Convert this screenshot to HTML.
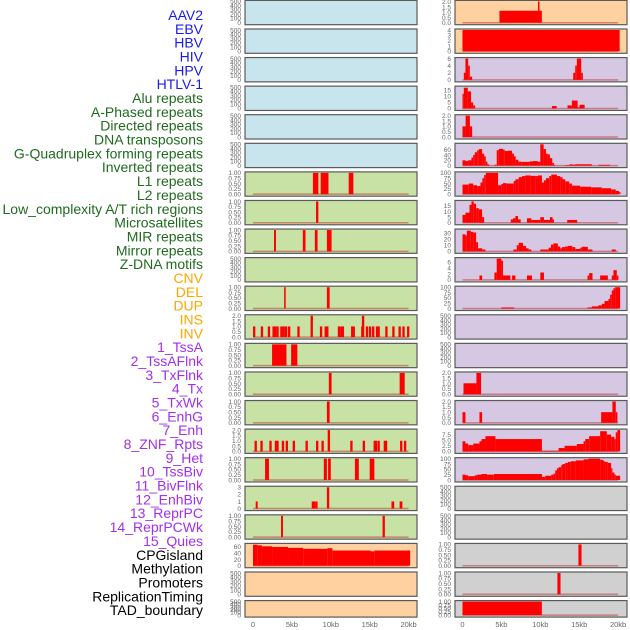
<!DOCTYPE html>
<html><head><meta charset="utf-8">
<style>
html,body{margin:0;padding:0;background:#fff;}
svg{display:block;font-family:"Liberation Sans",sans-serif;}
</style></head>
<body>
<svg id="chart" width="630" height="630" viewBox="0 0 630 630" xmlns="http://www.w3.org/2000/svg"></svg>
<script>
// ---- labels ----
const labelNames = ["AAV2","EBV","HBV","HIV","HPV","HTLV-1","Alu repeats","A-Phased repeats","Directed repeats","DNA transposons","G-Quadruplex forming repeats","Inverted repeats","L1 repeats","L2 repeats","Low_complexity A/T rich regions","Microsatellites","MIR repeats","Mirror repeats","Z-DNA motifs","CNV","DEL","DUP","INS","INV","1_TssA","2_TssAFlnk","3_TxFlnk","4_Tx","5_TxWk","6_EnhG","7_Enh","8_ZNF_Rpts","9_Het","10_TssBiv","11_BivFlnk","12_EnhBiv","13_ReprPC","14_ReprPCWk","15_Quies","CPGisland","Methylation","Promoters","ReplicationTiming","TAD_boundary"];
const labelColors = ["#1a1aee","#1a1aee","#1a1aee","#1a1aee","#1a1aee","#1a1aee",
 "#1f6b1f","#1f6b1f","#1f6b1f","#1f6b1f","#1f6b1f","#1f6b1f","#1f6b1f","#1f6b1f","#1f6b1f","#1f6b1f","#1f6b1f","#1f6b1f","#1f6b1f",
 "#ffa500","#ffa500","#ffa500","#ffa500","#ffa500",
 "#a030ee","#a030ee","#a030ee","#a030ee","#a030ee","#a030ee","#a030ee","#a030ee","#a030ee","#a030ee","#a030ee","#a030ee","#a030ee","#a030ee","#a030ee",
 "#000","#000","#000","#000","#000"];

// ---- x axis ----
const xTickValues = [0,5,10,15,20];
const xTickLabels = ["0","5kb","10kb","15kb","20kb"];

// ---- tick sets ----
const ticks500 = [0,100,200,300,400,500];
const ticks01 = [0,0.25,0.5,0.75,1];
const ticks2 = [0,0.5,1,1.5,2];
const ticks4 = [0,1,2,3,4];
const ticks6 = [0,2,4,6];
const ticks15 = [0,5,10,15];
const ticks60 = [0,20,40,60];
const ticks100 = [0,25,50,75,100];
const ticks30 = [0,10,20,30];
const ticks3 = [0,1,2,3];
const ticks75 = [0,2.5,5,7.5];

// ---- column 1 series (kb start, kb end, value) ----
const c1L1 = [[7.7,8.4,1],[8.7,9.7,1],[12.3,12.9,1]];
const c1R8 = [[8.1,8.4,1]];
const c1R9 = [[2.7,2.95,1],[6.4,6.75,1],[7.95,8.3,1],[9.5,10.1,1]];
const c1R11 = [[4.0,4.2,1],[9.5,9.85,1]];
const insPositions = [0.0,1.0,1.9,2.5,2.7,3.0,3.5,3.8,4.1,4.5,5.7,7.4,8.6,9.2,9.4,10.9,11.2,11.4,12.6,12.8,13.9,14.0,14.5,14.9,15.3,15.8,16.0,17.0,17.9,18.7,19.2,19.8];
const insValues =    [1,1,1,1,1,1,1,1,1,1,1,2,1,1,1,1,1,1,1,1,1,2,1,1,1,1,1,1,1,1,1,1];
const c1R13 = [[2.45,4.3,1],[4.9,5.7,1]];
const c1R14 = [[9.75,10.1,1],[18.85,19.5,1]];
const c1R15 = [[9.5,9.85,1]];
const znfPositions = [0.2,0.95,2.1,2.8,3.0,3.7,4.2,5.1,6.75,8.1,8.8,9.6,12.5,14.1,15.5,15.65,16.0,16.8,16.95,18.9,19.4];
const znfValues =    [1,1,1,1,1,1,1,1,1,1,1,2,1,1,1,1,1,1,1,1,1];
const c1R17 = [[1.55,2.05,1],[9.1,9.5,1],[9.65,10.0,1],[13.1,13.6,1],[15.0,15.6,1]];
const c1R18 = [[0.35,0.6,1],[7.55,8.0,1],[8.0,8.3,1],[9.5,9.8,3],[17.8,18.15,1],[18.85,19.2,1]];
const c1R19 = [[3.6,3.85,1],[16.65,16.95,1]];
const cpgIsland = [[0,0.6,67],[0.6,1.15,65],[1.15,2.45,62],[2.45,4.5,60],[4.5,6.45,57],[6.45,9.55,54],[9.55,10.2,56],[10.2,15.1,48.5],[15.1,15.6,46],[15.6,20.2,48.5]];

// ---- column 2 series ----
const c2R1 = [[4.75,10.2,1.15],[9.7,9.9,2.05]];
const c2R2 = [[0,20.2,4]];
const c2R3 = [[0.17,0.38,2],[0.38,0.73,6],[0.73,0.94,4],[0.94,1.24,0.9],[14.23,14.49,2],[14.49,14.7,4],[14.7,15.26,6],[15.26,15.47,2]];
const c2R4 = [[0,0.17,12],[0.17,0.68,17],[0.68,1.1,14],[1.1,1.37,5],[1.37,1.62,2.5],[11.5,12.1,2],[13.5,14.06,2.5],[14.06,14.8,6.5],[14.8,15.04,1],[15.04,15.7,3]];
const c2R5 = [[0,0.4,1],[0.4,0.95,2],[0.95,1.24,1]];
const c2R6 = [[0,0.38,20],[0.38,0.73,17],[0.73,1.15,20],[1.15,1.37,30],[1.37,1.58,40],[1.58,1.88,50],[1.88,2.09,57],[2.09,2.52,62],[2.52,2.78,45],[2.78,2.99,35],[2.99,3.2,15],[3.2,3.42,5],[4.1,4.4,3],[4.4,4.66,58],[4.66,5.21,63],[5.21,5.43,60],[5.43,5.85,55],[5.85,6.37,56],[6.37,6.62,45],[6.62,6.84,35],[6.84,7.18,22],[7.18,7.56,15],[7.56,8.63,14],[8.63,9.06,16],[9.06,9.7,17],[9.7,10.0,14],[10.0,10.43,80],[10.43,10.73,62],[10.73,10.94,45],[10.94,11.24,42],[11.24,11.54,28],[11.54,11.75,10],[11.75,11.88,3],[13.2,13.76,2],[13.76,14.06,5],[14.06,14.49,4],[14.49,16.62,5],[17.48,18.97,3]];
const c2R7 = [[0,0.81,45],[0.81,1.37,50],[1.37,1.88,42],[1.88,2.31,38],[2.31,2.56,55],[2.56,2.78,75],[2.78,2.99,90],[2.99,4.57,100],[4.57,5.0,42],[5.0,5.21,48],[5.21,5.64,52],[5.64,6.58,50],[6.58,6.8,62],[6.8,7.22,70],[7.22,7.65,80],[7.65,8.08,85],[8.08,8.76,88],[8.76,9.36,86],[9.36,9.7,85],[9.7,10.21,88],[10.21,10.47,55],[10.47,10.73,65],[10.73,11.15,75],[11.15,11.41,85],[11.41,12.14,92],[12.14,12.56,85],[12.56,12.86,80],[12.86,13.2,70],[13.2,13.72,60],[13.72,14.06,50],[14.06,15.13,40],[15.13,16.54,35],[16.54,17.9,32],[17.9,19.1,28],[19.1,19.7,22],[19.7,20.13,15],[20.13,20.3,10]];
const c2R8 = [[0,0.38,7],[0.38,0.9,9],[0.9,1.15,16],[1.15,1.45,19],[1.45,1.75,17],[1.75,2.09,13],[2.09,2.52,12],[2.52,2.78,5],[6.2,6.5,3],[6.5,6.8,4],[6.8,7.14,6],[7.14,7.48,3],[8.29,8.85,4],[8.85,10.0,2.5],[10.0,10.47,5],[10.47,11.24,2.5],[11.24,11.58,5],[11.58,11.75,3],[13.46,14.74,2.5]];
const c2R9 = [[0,0.38,28],[0.38,0.56,26],[0.56,1.07,34],[1.07,1.37,32],[1.37,1.75,31],[1.75,2.0,15],[2.0,2.52,5],[2.52,2.95,3],[6.54,6.97,3],[6.97,7.22,10],[7.22,7.78,14],[7.78,8.16,9],[8.16,8.5,5],[8.5,8.85,3],[10.0,11.07,3],[11.07,11.37,6],[11.37,11.67,11],[11.67,12.26,13],[12.26,12.56,8],[12.56,12.78,5],[12.78,13.2,7],[13.2,13.55,8],[13.55,14.1,9],[14.1,14.49,7],[14.49,15.13,4],[15.13,15.34,6],[15.34,16.11,7.5],[16.11,16.71,3],[19.19,19.7,3]];
const c2R10 = [[2.18,2.52,1.5],[4.1,4.4,2.5],[4.4,5.0,7.3],[5.0,5.21,6.5],[5.21,6.15,1.5],[6.37,6.8,1.5],[8.29,8.93,1.5],[10.0,10.47,2.5],[16.07,16.28,1.5],[16.28,16.71,2.3],[17.69,18.68,1.5],[19.19,19.4,1.5],[19.4,19.83,3.3],[19.83,20.04,1.5]];
const c2R11 = [[5.0,6.62,5],[16.07,16.62,5],[16.62,17.48,10],[17.48,17.9,15],[17.9,18.25,22],[18.25,18.76,35],[18.76,18.97,45],[18.97,19.19,65],[19.19,19.4,85],[19.4,19.62,95],[19.62,20.26,100]];
const c2R14 = [[0.13,1.79,1.03],[1.79,2.39,2]];
const c2R15 = [[0,0.38,1],[2.18,2.52,1],[17.82,19.27,1],[19.27,19.7,2],[19.7,19.91,1]];
const c2R16 = [[0,0.38,4.5],[0.38,0.73,3.5],[0.73,1.37,2.8],[1.37,2.18,3.5],[2.18,2.44,4.5],[2.44,2.95,5.5],[2.95,4.23,6.8],[4.23,10.21,5.5],[10.21,12.35,0.3],[12.35,13.12,1.5],[13.12,14.7,2.5],[14.7,15.56,3.3],[15.56,15.77,4.5],[15.77,16.28,5.5],[16.28,17.69,6.8],[17.69,18.55,9],[18.55,19.1,7.5],[19.1,19.53,6.5],[19.53,19.7,5.5],[19.7,19.91,8.5],[19.91,20.26,9.5]];
const c2R17 = [[0,0.38,25],[0.38,0.73,22],[0.73,1.58,18],[1.58,1.88,22],[1.88,2.44,25],[2.44,3.16,28],[3.16,4.02,25],[4.02,10.21,28],[10.21,10.64,15],[10.64,11.41,20],[11.41,11.71,25],[11.71,11.92,30],[11.92,12.14,45],[12.14,12.35,55],[12.35,12.69,60],[12.69,12.86,70],[12.86,13.2,75],[13.2,13.55,80],[13.55,13.93,85],[13.93,14.57,88],[14.57,15.56,92],[15.56,16.2,97],[16.2,17.69,100],[17.69,18.12,95],[18.12,18.33,88],[18.33,18.68,85],[18.68,19.1,80],[19.1,19.27,55],[19.27,19.53,35],[19.53,19.7,25],[19.7,20.26,20]];
const c2R20 = [[14.9,15.3,1]];
const c2R21 = [[12.2,12.6,1]];
const c2R22 = [[0,10.2,1]];

function pts(pos, vals){ return pos.map((p,i)=>[p,p+0.3,vals[i]]); }

const BLUE="#c8e4ec", GREEN="#c8e1a4", PEACH="#ffd1a0", PURP="#d6c7e2", GREY="#d0d0d0";
// column 1 panels: [bars, ymax, ticks, decimals, fill]
const col1 = [
 [null,500,ticks500,0,BLUE],[null,500,ticks500,0,BLUE],[null,500,ticks500,0,BLUE],
 [null,500,ticks500,0,BLUE],[null,500,ticks500,0,BLUE],[null,500,ticks500,0,BLUE],
 [c1L1,1,ticks01,2,GREEN],[c1R8,1,ticks01,2,GREEN],[c1R9,1,ticks01,2,GREEN],
 [null,500,ticks500,0,GREEN],[c1R11,1,ticks01,2,GREEN],[pts(insPositions,insValues),2,ticks2,1,GREEN],
 [c1R13,1,ticks01,2,GREEN],[c1R14,1,ticks01,2,GREEN],[c1R15,1,ticks01,2,GREEN],
 [pts(znfPositions,znfValues),2,ticks2,1,GREEN],[c1R17,1,ticks01,2,GREEN],[c1R18,3,ticks3,0,GREEN],
 [c1R19,1,ticks01,2,GREEN],[cpgIsland,68,ticks60,0,PEACH],[null,500,ticks500,0,PEACH],[null,500,ticks500,0,PEACH]
];
const col2 = [
 [c2R1,2.05,ticks2,1,PEACH],[c2R2,4,ticks4,0,PEACH],[c2R3,6,ticks6,0,PURP],
 [c2R4,17.5,ticks15,0,PURP],[c2R5,2,ticks2,1,PURP],[c2R6,80,ticks60,0,PURP],
 [c2R7,100,ticks100,0,PURP],[c2R8,19,ticks15,0,PURP],[c2R9,35,ticks30,0,PURP],
 [c2R10,7.2,ticks6,0,PURP],[c2R11,100,ticks100,0,PURP],[null,500,ticks500,0,PURP],
 [null,500,ticks500,0,PURP],[c2R14,2,ticks2,1,PURP],[c2R15,2,ticks2,1,PURP],
 [c2R16,9.5,ticks75,1,PURP],[c2R17,100,ticks100,0,PURP],[null,500,ticks500,0,GREY],
 [null,500,ticks500,0,GREY],[c2R20,1,ticks01,2,GREY],[c2R21,1,ticks01,2,GREY],[c2R22,1,ticks01,2,GREY]
];

const NS="http://www.w3.org/2000/svg";
const svg=document.getElementById('chart');
function mk(tag, attrs, parent){ const e=document.createElementNS(NS,tag); for(const k in attrs) e.setAttribute(k,attrs[k]); (parent||svg).appendChild(e); return e; }

// labels
labelNames.forEach((n,i)=>{
  const t=mk('text',{x:203,y:15+i*13.84+5,'text-anchor':'end','font-size':14,fill:labelColors[i]});
  t.textContent=n;
  
  
});

const colGeom=[{x0:245,x1:417,k0:253},{x0:455,x1:627,k0:462.5}];
const PXKB=7.78;
function rowTop(i){ return 0.4+i*28.58; }
function rowH(i){ return i===21?16.5:24.3; }

[col1,col2].forEach((col,ci)=>{
  const g=colGeom[ci];
  const xs=kb=>g.k0+kb*PXKB;
  col.forEach((p,ri)=>{
    const [bars,ymax,ticks,dec,fill]=p;
    const top=rowTop(ri), h=rowH(ri), bot=top+h;
    const yb=bot-2, yt=top+1;
    const ys=v=>yb-(v/ymax)*(yb-yt);
    const grp=mk('g',{});
    
    
    mk('rect',{x:g.x0,y:top,width:g.x1-g.x0,height:h,fill:fill},grp);
    if(bars){
      mk('line',{x1:xs(0),x2:xs(20),y1:yb,y2:yb,stroke:'rgba(190,60,60,0.55)','stroke-width':1.5},grp);
      bars.forEach(b=>{
        const r=mk('rect',{x:xs(b[0]),y:ys(Math.min(b[2],ymax)),width:Math.max(0.8,xs(b[1])-xs(b[0])),height:yb-ys(Math.min(b[2],ymax)),fill:'#ff0000'},grp);
        
        
      });
    }
    mk('rect',{x:g.x0,y:top,width:g.x1-g.x0,height:h,fill:'none',stroke:'#5a5a5a','stroke-width':1.2},grp);
    ticks.forEach(tv=>{
      const t=mk('text',{x:g.x0-4,y:ys(tv)+2.3,'text-anchor':'end','font-size':6.5,fill:'#666'},grp);
      t.textContent=tv.toFixed(dec);
      
      
    });
  });
  xTickValues.forEach((v,i)=>{
    const t=mk('text',{x:xs(v),y:627,'text-anchor':'middle','font-size':7.5,fill:'#666'});
    t.textContent=xTickLabels[i];
    
    
  });
});
</script>
</body></html>
